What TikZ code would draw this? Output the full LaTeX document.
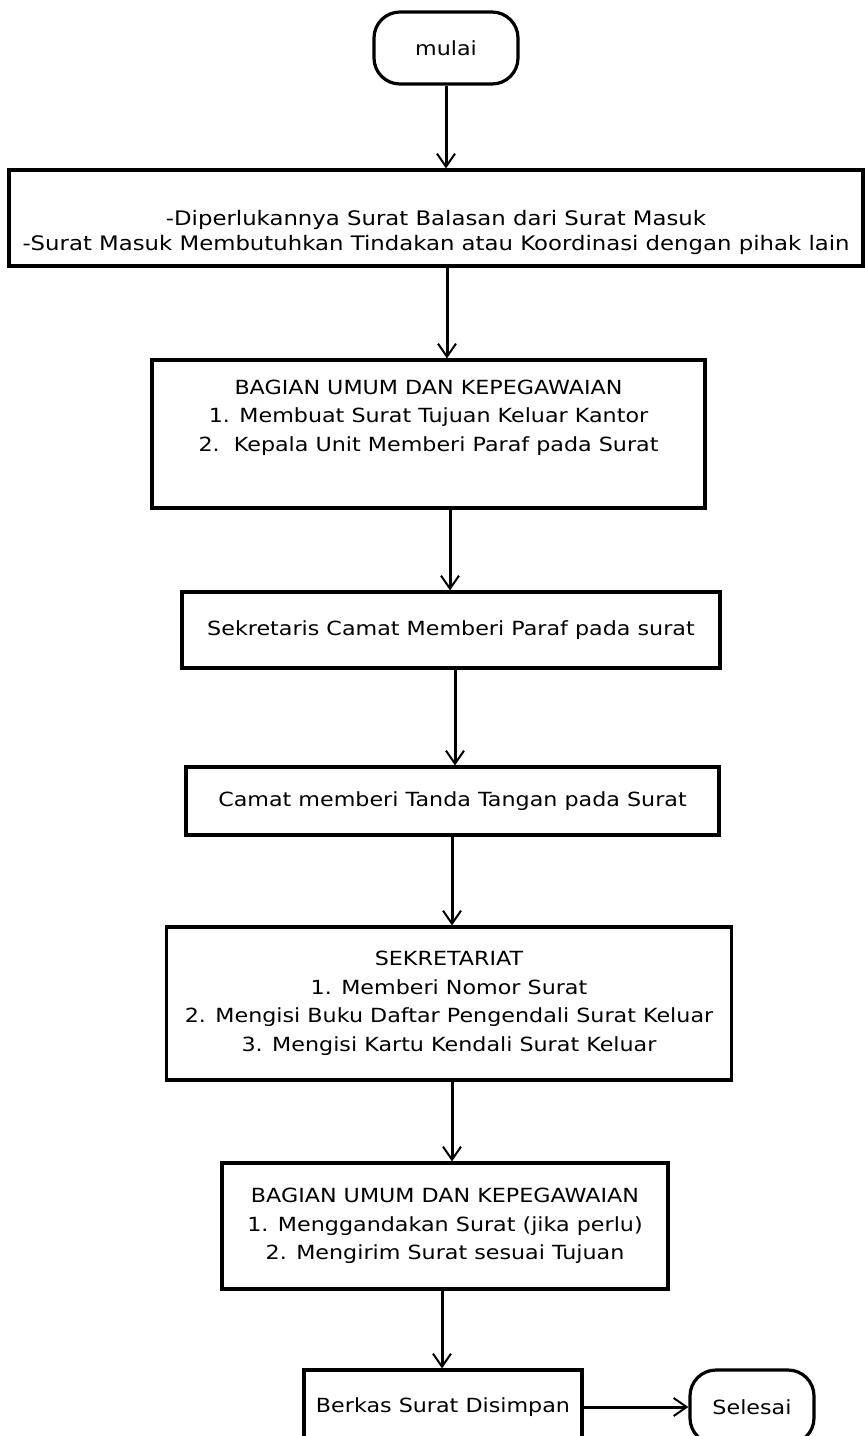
\documentclass[tikz,border=0pt]{standalone}
\usepackage{fontspec}
\setmainfont[FakeStretch=1.14]{DejaVu Sans}
\usetikzlibrary{arrows.meta}

\begin{document}
\begin{tikzpicture}[x=1pt,y=-1pt,
  proses/.style={draw,line width=3.2pt,align=center,inner sep=0pt,
    font=\fontsize{19.5}{28.5}\selectfont},
  terminal/.style={proses,rounded corners=26pt},
  alir/.style={line width=3pt,
    -{Straight Barb[length=13pt,width=18pt,line width=2pt]}}]
\useasboundingbox (0,0) rectangle (865,1436);
\fill[white] (0,0) rectangle (865,1436);

\node[terminal,minimum width=144pt,minimum height=72pt] (mulai) at (446,48) {mulai};
\node[proses,minimum width=854pt,minimum height=96pt,
  font=\fontsize{20}{25}\selectfont] (syarat) at (436,218)
  {\raisebox{-14.5pt}[\height][\depth]{\begin{tabular}{@{}c@{}}
   -Diperlukannya Surat Balasan dari Surat Masuk\\
   -Surat Masuk Membutuhkan Tindakan atau Koordinasi dengan pihak lain
   \end{tabular}}};
\node[proses,minimum width=553pt,minimum height=148pt] (umum1) at (428.5,434)
  {BAGIAN UMUM DAN KEPEGAWAIAN\\ 1. Membuat Surat Tujuan Keluar Kantor\\
   2.~~Kepala Unit Memberi Paraf pada Surat\\ \strut};
\node[proses,minimum width=538pt,minimum height=76pt] (sekcam) at (451,630)
  {Sekretaris Camat Memberi Paraf pada surat};
\node[proses,minimum width=533pt,minimum height=68pt] (camat) at (452.5,801)
  {Camat memberi Tanda Tangan pada Surat};
\node[proses,minimum width=565pt,minimum height=153pt] (sekret) at (449,1003.5)
  {SEKRETARIAT\\ 1. Memberi Nomor Surat\\
   2. Mengisi Buku Daftar Pengendali Surat Keluar\\
   3. Mengisi Kartu Kendali Surat Keluar};
\node[proses,minimum width=446pt,minimum height=126pt] (umum2) at (445,1226)
  {BAGIAN UMUM DAN KEPEGAWAIAN\\ 1. Menggandakan Surat (jika perlu)\\
   2. Mengirim Surat sesuai Tujuan};
\node[proses,minimum width=278pt,minimum height=74pt] (simpan) at (443,1407)
  {Berkas Surat Disimpan};
\node[terminal,minimum width=124pt,minimum height=74pt] (selesai) at (752,1407)
  {Selesai};

\draw[alir] (mulai.south -| 446,0) -- (syarat.north -| 446,0);
\draw[alir] (syarat.south -| 447,0) -- (umum1.north -| 447,0);
\draw[alir] (umum1.south -| 450,0) -- (sekcam.north -| 450,0);
\draw[alir] (sekcam.south -| 455,0) -- (camat.north -| 455,0);
\draw[alir] (camat.south -| 452,0) -- (sekret.north -| 452,0);
\draw[alir] (sekret.south -| 452,0) -- (umum2.north -| 452,0);
\draw[alir] (umum2.south -| 442,0) -- (simpan.north -| 442,0);
\draw[alir] (simpan.east) -- (selesai.west);
\end{tikzpicture}
\end{document}
